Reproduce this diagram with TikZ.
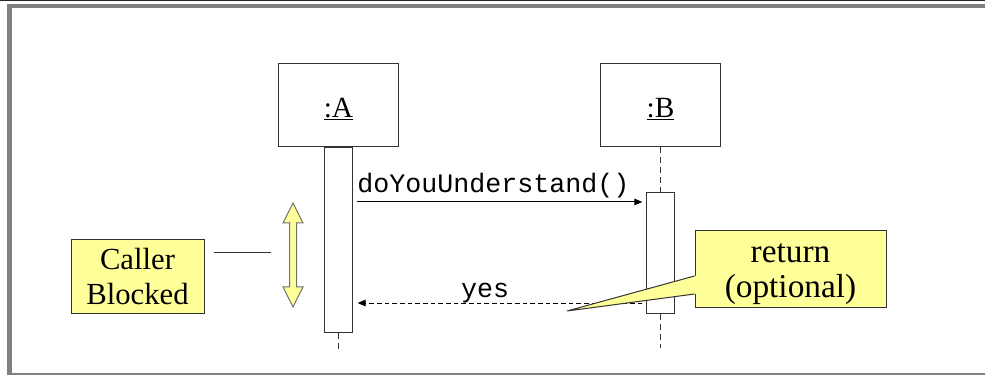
\documentclass[tikz,border=0pt]{standalone}
\usepackage{fontspec}
\setmainfont{Liberation Serif}
\setmonofont{Liberation Mono}
\usetikzlibrary{arrows.meta}
\definecolor{notefill}{HTML}{FFFF99}
\definecolor{framegray}{HTML}{808080}
\definecolor{edgegray}{HTML}{333333}

\begin{document}
\begin{tikzpicture}[x=0.75pt,y=0.75pt,
  objbox/.style={draw=edgegray, line width=0.75pt, minimum width=90pt, minimum height=62.25pt, font=\fontsize{22}{26}\selectfont},
  actbar/.style={draw=edgegray, fill=white, line width=0.75pt, minimum width=20.5pt, inner sep=0pt},
  lifeline/.style={edgegray, line width=0.75pt, dash pattern=on 4.5pt off 3pt},
  call/.style={-{Triangle[length=6pt,width=5pt]}, line width=0.75pt, shorten <=3pt, shorten >=3pt},
  reply/.style={call, dash pattern=on 3.5pt off 2.25pt},
  msgtext/.style={font=\ttfamily\fontsize{20}{24}\selectfont, inner sep=0pt},
  note/.style={draw=edgegray, fill=notefill, line width=0.75pt, align=center, inner sep=0pt, font=\fontsize{23}{26}\selectfont},
  blockarrow/.style={draw=edgegray!70, fill=notefill, line width=0.75pt}]
\useasboundingbox (0,0) rectangle (985,375);
\draw[black!85, line width=1pt] (0,374.4) -- (985,374.4);
\fill[framegray] (7,0) rectangle (12,371);
\fill[framegray] (7,367) rectangle (985,371);
\fill[framegray] (7,0) rectangle (985,2);
\node[objbox] (objA) at (338.5,269.5) {\rule{0pt}{20pt}\underline{:A}};
\node[objbox] (objB) at (660.5,269.5) {\rule{0pt}{20pt}\underline{:B}};
\node[actbar, minimum height=138pt, anchor=north] (actA) at (objA.south) {};
\node[actbar, minimum height=90pt] (actB) at (660.5,122) {};
\draw[lifeline] (objB.south) -- (actB.north);
\draw[lifeline] (actB.south) -- ++(0,-34);
\draw[lifeline] (actA.south) -- ++(0,-16);
\draw[call] (actA.east |- 0,173) -- (actB.west |- 0,173);
\node[msgtext, anchor=base west] (askText) at (357,182) {doYouUnderstand()};
\draw[reply, shorten >=3.75pt] (actB.west |- 0,72) -- (actA.east |- 0,72);
\node[msgtext, anchor=base] (yesText) at (485,78) {yes};
\node[note, minimum width=99.75pt, minimum height=54.75pt] (blocked) at (137.5,98.5) {Caller\\Blocked};
\draw[edgegray, line width=0.75pt] (blocked.east |- 0,122) ++(9,0) -- ++(57,0);
\draw[blockarrow] (293,172) -- (303,152) -- (296.5,152) -- (296.5,88) -- (303,88) -- (293,68)
  -- (283,88) -- (289.5,88) -- (289.5,152) -- (283,152) -- cycle;
\node[note, minimum width=143.25pt, minimum height=57pt, font=\fontsize{25}{26}\selectfont] (ret) at (790.5,106) {\rule{0pt}{22pt}return\\(optional)};
\coordinate (retTip) at (567,64);
\fill[notefill] (retTip) -- (ret.west |- 0,99) -- ++(2,0) -- ++(0,-18) -- (ret.west |- 0,81) -- cycle;
\draw[edgegray, line width=0.75pt] (ret.west |- 0,99) -- (retTip) -- (ret.west |- 0,81);
\end{tikzpicture}
\end{document}
